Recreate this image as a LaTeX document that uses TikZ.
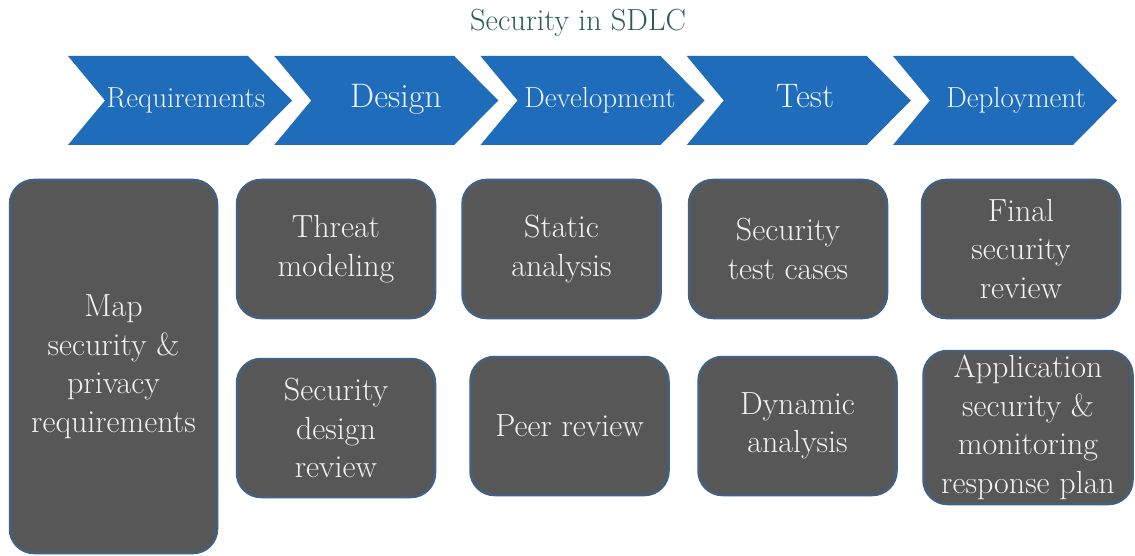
\documentclass[tikz,border=0pt]{standalone}
\definecolor{chevblue}{RGB}{31,108,186}
\definecolor{boxgrey}{RGB}{87,87,87}
\definecolor{boxedge}{RGB}{66,96,128}
\definecolor{titleteal}{RGB}{45,92,92}
\definecolor{chevtext}{RGB}{235,242,255}
\definecolor{boxtext}{RGB}{242,242,242}
\begin{document}
\begin{tikzpicture}[x=1pt,y=-1pt,
  chev/.style={fill=chevblue},
  chevlabel/.style={text=chevtext, anchor=base, inner sep=0pt},
  bigchev/.style={chevlabel, font=\fontsize{34}{36}\selectfont},
  smallchev/.style={chevlabel, font=\fontsize{29}{32}\selectfont},
  task/.style={draw=boxedge, line width=2.5pt, fill=boxgrey, rounded corners=24pt,
    text=boxtext, align=center, inner sep=0pt, font=\fontsize{32}{38.5}\selectfont},
  std/.style={task, minimum width=198pt, minimum height=138pt},
]
\useasboundingbox (0,0) rectangle (1135,556);
\fill[white] (0,0) rectangle (1135,556);

\node[anchor=base, text=titleteal, font=\fontsize{30.5}{32}\selectfont] (title) at (578,31) {Security in SDLC};

\foreach \l in {68,274.25,480.5,686.75,893}{
  \fill[chev] (\l,56) -- ++(180,0) -- ++(44,44.5) -- ++(-44,44.5) -- ++(-180,0) -- ++(37,-44.5) -- cycle;
}
\node[smallchev] (req) at (186,108) {Requirements};
\node[bigchev] (des) at (396,108) {Design};
\node[smallchev] (dev) at (600,108) {Development};
\node[bigchev] (tst) at (805,108) {Test};
\node[smallchev] (dep) at (1016,108) {Deployment};

\node[task, minimum width=207pt, minimum height=373pt] (map) at (113.5,366.5) {Map\\security \&\\privacy\\requirements};
\node[std] (threat) at (336,249) {Threat\\modeling};
\node[std] (sdr) at (336,428) {Security\\design\\review};
\node[std] (static) at (561.5,249) {Static\\analysis};
\node[std] (peer) at (569.5,426) {Peer review};
\node[std] (stc) at (788,249) {Security\\test cases};
\node[std] (dyn) at (797.5,426) {Dynamic\\analysis};
\node[std] (final) at (1021,249) {Final\\security\\review};
\node[task, minimum width=209pt, minimum height=153pt] (app) at (1028,427.5) {Application\\security \&\\monitoring\\response plan};
\end{tikzpicture}
\end{document}
